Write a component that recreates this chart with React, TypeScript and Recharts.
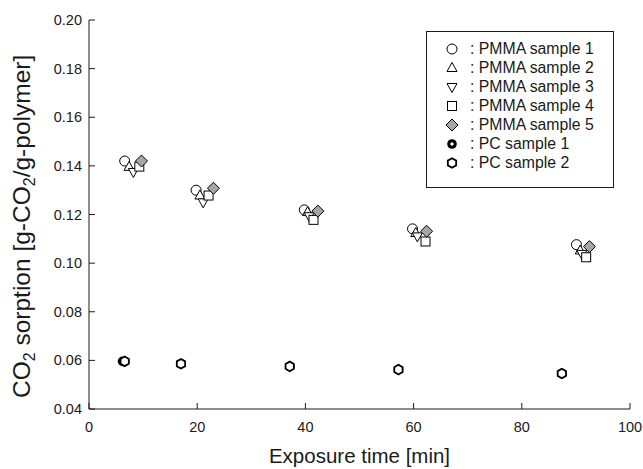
import React from 'react'
import {
  ScatterChart,
  Scatter,
  XAxis,
  YAxis,
} from 'recharts'

// values
const timeTicks = [0, 20, 40, 60, 80, 100]
const sorptionTicks = [0.04, 0.06, 0.08, 0.1, 0.12, 0.14, 0.16, 0.18, 0.2]

const pmma1Time = [6.6, 19.8, 39.8, 59.8, 90.1]
const pmma1Sorption = [0.142, 0.13, 0.1219, 0.1141, 0.1076]
const pmma2Time = [7.4, 20.5, 40.4, 60.4, 90.8]
const pmma2Sorption = [0.1396, 0.1278, 0.121, 0.1124, 0.1052]
const pmma3Time = [8.2, 21.1, 40.7, 60.7, 91.1]
const pmma3Sorption = [0.1375, 0.125, 0.1193, 0.111, 0.1038]
const pmma4Time = [9.3, 22.1, 41.5, 62.2, 91.9]
const pmma4Sorption = [0.1397, 0.1278, 0.1178, 0.1089, 0.1024]
const pmma5Time = [9.7, 23.0, 42.3, 62.4, 92.5]
const pmma5Sorption = [0.142, 0.1308, 0.1214, 0.1131, 0.1068]
const pc1Time = [6.2, 17.0, 37.1, 57.2, 87.4]
const pc1Sorption = [0.0596, 0.0586, 0.0575, 0.0562, 0.0546]
const pc2Time = [6.6, 17.0, 37.1, 57.2, 87.4]
const pc2Sorption = [0.0596, 0.0586, 0.0575, 0.0562, 0.0546]

const toPoints = (xs: number[], ys: number[]) => xs.map((x, i) => ({ x, y: ys[i] }))

const FONT = '"Liberation Sans", Arial, sans-serif'
const INK = '#1a1a1a'

type Kind = 'circle' | 'up' | 'down' | 'square' | 'diamond' | 'dot' | 'hex'

const series: { name: string; kind: Kind; data: { x: number; y: number }[] }[] = [
  { name: ': PMMA sample 1', kind: 'circle', data: toPoints(pmma1Time, pmma1Sorption) },
  { name: ': PMMA sample 2', kind: 'up', data: toPoints(pmma2Time, pmma2Sorption) },
  { name: ': PMMA sample 3', kind: 'down', data: toPoints(pmma3Time, pmma3Sorption) },
  { name: ': PMMA sample 4', kind: 'square', data: toPoints(pmma4Time, pmma4Sorption) },
  { name: ': PMMA sample 5', kind: 'diamond', data: toPoints(pmma5Time, pmma5Sorption) },
  { name: ': PC sample 1', kind: 'dot', data: toPoints(pc1Time, pc1Sorption) },
  { name: ': PC sample 2', kind: 'hex', data: toPoints(pc2Time, pc2Sorption) },
]

const Marker = ({ kind, cx, cy }: { kind: Kind; cx: number; cy: number }) => {
  const common = { stroke: '#000', strokeWidth: 1 }
  switch (kind) {
    case 'circle':
      return <circle cx={cx} cy={cy} r={5} fill="#fff" {...common} />
    case 'up':
      return (
        <polygon
          points={`${cx},${cy - 5.5} ${cx + 5},${cy + 3.5} ${cx - 5},${cy + 3.5}`}
          fill="#fff"
          {...common}
        />
      )
    case 'down':
      return (
        <polygon
          points={`${cx},${cy + 5.5} ${cx + 5},${cy - 3.5} ${cx - 5},${cy - 3.5}`}
          fill="#fff"
          {...common}
        />
      )
    case 'square':
      return <rect x={cx - 4.5} y={cy - 4.5} width={9} height={9} fill="#fff" {...common} />
    case 'diamond':
      return (
        <polygon
          points={`${cx},${cy - 6} ${cx + 6},${cy} ${cx},${cy + 6} ${cx - 6},${cy}`}
          fill="#a6a6a6"
          {...common}
        />
      )
    case 'dot':
      return (
        <g>
          <circle cx={cx} cy={cy} r={4.8} fill="#000" />
          <circle cx={cx} cy={cy} r={1.7} fill="#fff" />
        </g>
      )
    case 'hex': {
      const r = 4.8
      const pts = [0, 1, 2, 3, 4, 5]
        .map((k) => {
          const a = (Math.PI / 3) * k - Math.PI / 2
          return `${cx + r * Math.cos(a)},${cy + r * Math.sin(a)}`
        })
        .join(' ')
      return <polygon points={pts} fill="#fff" stroke="#000" strokeWidth={1.8} />
    }
  }
  return null
}

// inward tick marks, labels outside
const BottomTick = ({ x, y, payload }: any) => (
  <g>
    <line x1={x} x2={x} y1={y} y2={y - 6} stroke={INK} />
    <text x={x} y={y + 23} textAnchor="middle" fontSize={14.5} fontFamily={FONT} fill={INK}>
      {payload.value}
    </text>
  </g>
)

const LeftTick = ({ x, y, payload }: any) => (
  <g>
    <line x1={x} x2={x + 6} y1={y} y2={y} stroke={INK} />
    <text x={x - 7} y={y + 5} textAnchor="end" fontSize={14.5} fontFamily={FONT} fill={INK}>
      {payload.value.toFixed(2)}
    </text>
  </g>
)

const TopTick = ({ x, y }: any) => <line x1={x} x2={x} y1={y} y2={y + 6} stroke={INK} />
const RightTick = ({ x, y }: any) => <line x1={x} x2={x - 6} y1={y} y2={y} stroke={INK} />

const YTitle = () => (
  <text
    transform="translate(30, 398) rotate(-90)"
    textAnchor="start"
    fontSize={24.5}
    fontFamily={FONT}
    fill={INK}
  >
    CO<tspan fontSize={16} dy={5}>2</tspan>
    <tspan dy={-5}> sorption [g-CO</tspan>
    <tspan fontSize={16} dy={5}>2</tspan>
    <tspan dy={-5}>/g-polymer]</tspan>
  </text>
)

const LegendBox = () => (
  <div
    style={{
      position: 'absolute',
      left: 426,
      top: 31,
      border: `1px solid ${INK}`,
      width: 188,
      height: 157,
      boxSizing: 'border-box',
      padding: '7px 0 0 16px',
      fontFamily: FONT,
      fontSize: 15.8,
      color: INK,
      background: '#fff',
    }}
  >
    {series.map((s) => (
      <div key={s.name} style={{ display: 'flex', alignItems: 'center', height: 19 }}>
        <svg width={18} height={16} style={{ marginRight: 9 }}>
          <Marker kind={s.kind} cx={9} cy={8} />
        </svg>
        <span>{s.name}</span>
      </div>
    ))}
  </div>
)

export default function App() {
  return (
    <div style={{ position: 'absolute', left: 0, top: 0, width: 643, height: 469, background: '#fff' }}>
      <ScatterChart width={643} height={469} margin={{ top: 20, right: 13, bottom: 0, left: 0 }}>
        <XAxis
          dataKey="x"
          type="number"
          domain={[0, 100]}
          ticks={timeTicks}
          height={60}
          tickSize={0}
          tickMargin={0}
          tickLine={false}
          axisLine={{ stroke: INK }}
          tick={<BottomTick />}
          label={{
            value: 'Exposure time [min]',
            position: 'insideBottom',
            offset: 6,
            fontSize: 20.5,
            fontFamily: FONT,
            fill: INK,
          }}
        />
        <XAxis
          xAxisId="top"
          orientation="top"
          type="number"
          domain={[0, 100]}
          ticks={timeTicks}
          height={0}
          tickSize={0}
          tickMargin={0}
          tickLine={false}
          axisLine={{ stroke: INK }}
          tick={<TopTick />}
        />
        <YAxis
          dataKey="y"
          type="number"
          domain={[0.04, 0.2]}
          ticks={sorptionTicks}
          width={89}
          tickSize={0}
          tickMargin={0}
          tickLine={false}
          axisLine={{ stroke: INK }}
          tick={<LeftTick />}
          label={<YTitle />}
        />
        <YAxis
          yAxisId="right"
          orientation="right"
          type="number"
          domain={[0.04, 0.2]}
          ticks={sorptionTicks}
          width={0}
          tickSize={0}
          tickMargin={0}
          tickLine={false}
          axisLine={{ stroke: INK }}
          tick={<RightTick />}
        />
        {series.map((s) => (
          <Scatter
            key={s.name}
            name={s.name}
            data={s.data}
            isAnimationActive={false}
            shape={(p: any) => <Marker kind={s.kind} cx={p.cx} cy={p.cy} />}
          />
        ))}
      </ScatterChart>
      <LegendBox />
    </div>
  )
}
